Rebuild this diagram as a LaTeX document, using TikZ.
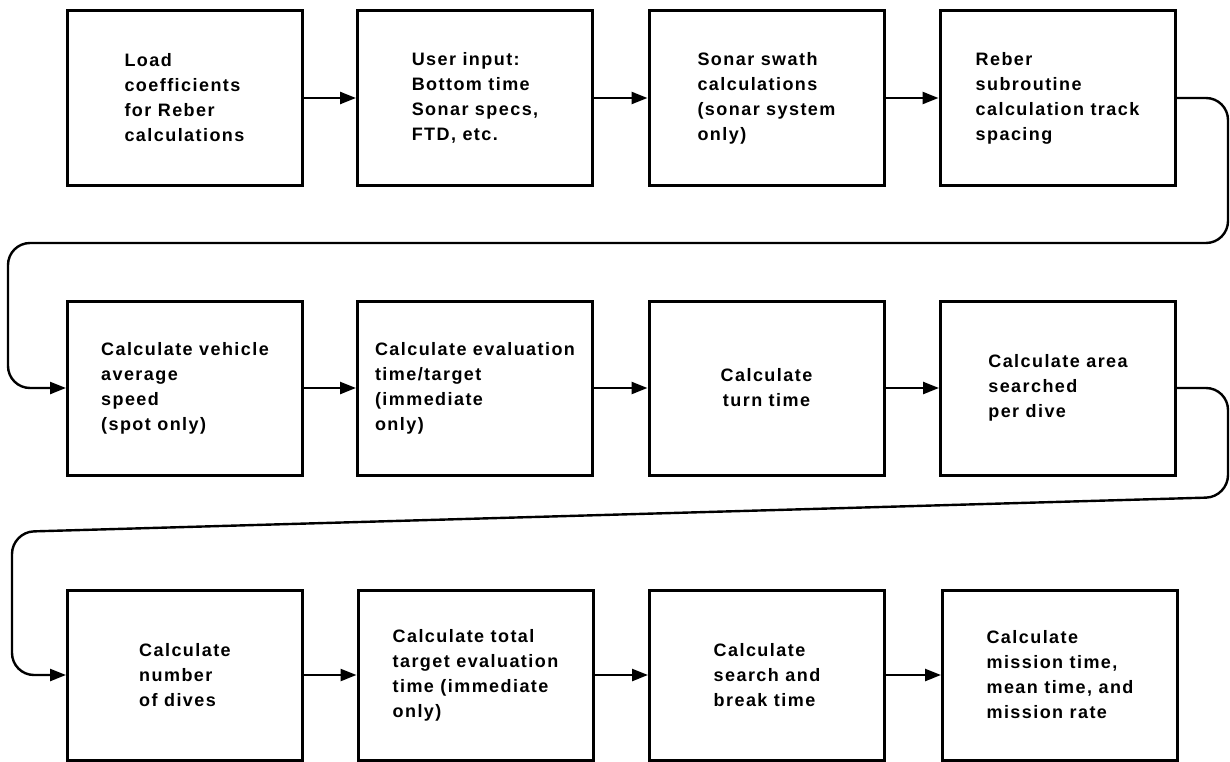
\documentclass[tikz,border=0pt]{standalone}
\usepackage{fontspec}
\setmainfont{Liberation Sans}[LetterSpace=8]
\usetikzlibrary{arrows.meta}
\tikzset{
  box/.style={draw, line width=3pt, minimum width=235pt, minimum height=174pt,
    inner sep=0pt, font=\fontsize{18}{25}\selectfont\bfseries, align=left},
  boxlow/.style={box, minimum height=170pt},
  flow/.style={line width=2.4pt, -{Triangle[length=16pt,width=12pt]}},
  loopline/.style={flow, rounded corners=22pt}
}
\begin{document}
\begin{tikzpicture}[x=1pt,y=-1pt]
\useasboundingbox (0,0) rectangle (1230,762);
% row 1
\node[box] (b1) at (184.5,98) {Load\\coefficients\\for Reber\\calculations};
\node[box] (b2) at (475,98) {User input:\\Bottom time\\Sonar specs,\\FTD, etc.};
\node[box] (b3) at (766.5,98) {Sonar swath\\calculations\\(sonar system\\only)};
\node[box] (b4) at (1057.5,98) {Reber\\subroutine\\calculation track\\spacing};
% row 2
\node[box] (b5) at (185,388) {Calculate vehicle\\average\\speed\\(spot only)};
\node[box] (b6) at (475,388) {Calculate evaluation\\time/target\\(immediate\\only)};
\node[box, align=center] (b7) at (766.5,388) {Calculate\\turn time};
\node[box] (b8) at (1058,388) {Calculate area\\searched\\per dive};
% row 3
\node[boxlow] (b9) at (185,675) {Calculate\\number\\of dives};
\node[boxlow] (b10) at (475.5,675) {Calculate total\\target evaluation\\time (immediate\\only)};
\node[boxlow] (b11) at (767,675) {Calculate\\search and\\break time};
\node[boxlow] (b12) at (1060,675) {Calculate\\mission time,\\mean time, and\\mission rate};
% connectors
\draw[flow] (b1) -- (b2);
\draw[flow] (b2) -- (b3);
\draw[flow] (b3) -- (b4);
\draw[loopline] (b4.east) -- (1228,98) -- (1228,243) -- (8,243) -- (8,388) -- (b5.west);
\draw[flow] (b5) -- (b6);
\draw[flow] (b6) -- (b7);
\draw[flow] (b7) -- (b8);
\draw[loopline] (b8.east) -- (1228,388) -- (1228,497) -- (12,532) -- (12,675) -- (b9.west);
\draw[flow] (b9) -- (b10);
\draw[flow] (b10) -- (b11);
\draw[flow] (b11) -- (b12);
\end{tikzpicture}
\end{document}
